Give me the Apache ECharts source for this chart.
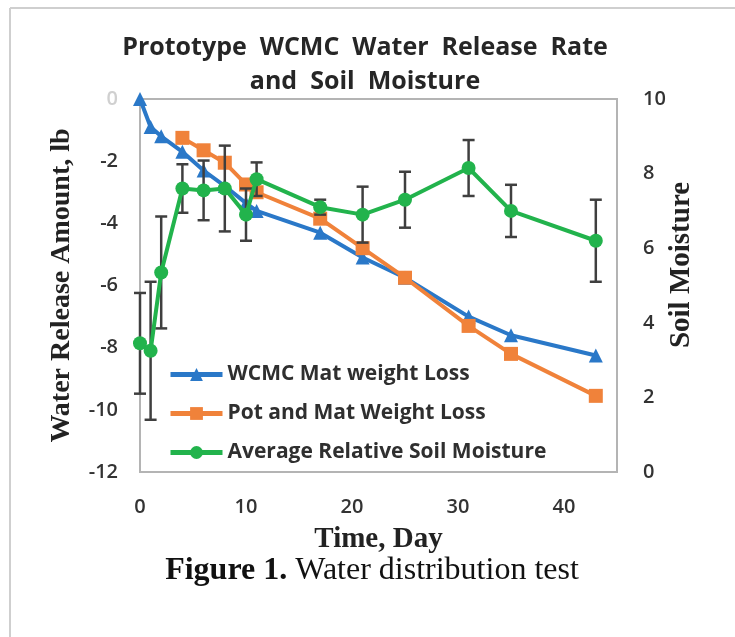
<!DOCTYPE html>
<html>
<head>
<meta charset="utf-8">
<script src="https://cdn.jsdelivr.net/npm/echarts@6/dist/echarts.min.js"></script>
<style>html,body{margin:0;padding:0;background:#fff;}#c{width:735px;height:637px;}</style>
</head>
<body>
<div id="c"></div>
<script>
const titleLines = ['Prototype  WCMC  Water  Release  Rate', 'and  Soil  Moisture'];
const seriesNames = ['WCMC Mat weight Loss', 'Pot and Mat Weight Loss', 'Average Relative Soil Moisture'];
const blueDays = [0, 1, 2, 4, 6, 8, 10, 11, 17, 21, 25, 31, 35, 43];
const blueVals = [0, -0.9, -1.2, -1.7, -2.3, -2.8, -3.35, -3.6, -4.3, -5.1, -5.75, -7.0, -7.6, -8.25];
const orangeDays = [4, 6, 8, 10, 11, 17, 21, 25, 31, 35, 43];
const orangeVals = [-1.25, -1.65, -2.05, -2.75, -3.0, -3.85, -4.8, -5.75, -7.3, -8.2, -9.55];
const greenDays = [0, 1, 2, 4, 6, 8, 10, 11, 17, 21, 25, 31, 35, 43];
const greenVals = [3.45, 3.25, 5.35, 7.6, 7.55, 7.6, 6.9, 7.85, 7.1, 6.9, 7.3, 8.15, 7.0, 6.2];
const greenErr = [1.35, 1.85, 1.5, 0.65, 0.8, 1.15, 0.7, 0.45, 0.2, 0.75, 0.75, 0.75, 0.7, 1.1];
const xTicks = [0, 10, 20, 30, 40];
const leftTicks = [0, -2, -4, -6, -8, -10, -12];
const rightTicks = [0, 2, 4, 6, 8, 10];

const BLUE = '#2A78C8', ORANGE = '#F0823A', GREEN = '#22B34C', ERR = '#3f3f3f';
const sans = '"Open Sans", sans-serif';
const serif = '"Liberation Serif", "Times New Roman", serif';

const chart = echarts.init(document.getElementById('c'), null, {renderer: 'canvas'});
const pairs = (xs, ys) => xs.map((x, i) => [x, ys[i]]);

const option = {
  backgroundColor: '#fff',
  animation: false,
  title: {
    text: titleLines.join('\n'),
    left: 360, top: 26, textAlign: 'center',
    textStyle: {fontFamily: sans, fontWeight: 'bold', fontSize: 25, color: '#262626', lineHeight: 34}
  },
  grid: {left: 140, right: 118, top: 99, bottom: 165, show: true, borderColor: '#b4b4b4', borderWidth: 2, containLabel: false},
  legend: {
    orient: 'vertical', left: 163, top: 359, itemGap: 18, itemWidth: 52, itemHeight: 16,
    data: seriesNames,
    lineStyle: {width: 5},
    textStyle: {fontFamily: sans, fontSize: 21, fontWeight: 'bold', color: '#2f2f2f'}
  },
  xAxis: {
    type: 'value', min: 0, max: 45, interval: 10,
    axisLine: {show: false}, axisTick: {show: false}, splitLine: {show: false},
    axisLabel: {margin: 25, showMaxLabel: false, fontFamily: sans, fontSize: 20, fontWeight: 600, color: '#333',
      formatter: v => xTicks.includes(v) ? String(v) : ''},
    name: 'Time, Day', nameLocation: 'middle', nameGap: 53,
    nameTextStyle: {fontFamily: serif, fontWeight: 'bold', fontSize: 29, color: '#222'}
  },
  yAxis: [{
    type: 'value', min: -12, max: 0, interval: 2,
    axisLine: {show: true, lineStyle: {color: '#b4b4b4', width: 2}}, axisTick: {show: false}, splitLine: {show: false},
    axisLabel: {margin: 22, fontFamily: sans, fontSize: 20, fontWeight: 600, color: '#333',
      formatter: v => leftTicks.includes(v) ? (v === 0 ? '{z|0}' : String(v)) : '',
      rich: {z: {color: '#d0d0d0', fontFamily: sans, fontSize: 20, fontWeight: 600}}},
    name: 'Water Release Amount, lb', nameLocation: 'middle', nameGap: 64, nameRotate: 90,
    nameTextStyle: {fontFamily: serif, fontWeight: 'bold', fontSize: 28, color: '#222'}
  }, {
    type: 'value', min: 0, max: 10, interval: 2,
    axisLine: {show: false}, axisTick: {show: false}, splitLine: {show: false},
    axisLabel: {margin: 26, fontFamily: sans, fontSize: 20, fontWeight: 600, color: '#333',
      formatter: v => rightTicks.includes(v) ? String(v) : ''}
  }],
  graphic: [
    {type: 'line', shape: {x1: 10, y1: 8, x2: 735, y2: 8}, style: {stroke: '#cfcfcf', lineWidth: 2}},
    {type: 'line', shape: {x1: 10, y1: 8, x2: 10, y2: 637}, style: {stroke: '#cfcfcf', lineWidth: 2}},
    {type: 'text', x: 682, y: 265, rotation: Math.PI / 2,
      style: {text: 'Soil Moisture', font: 'bold 29px ' + serif, fill: '#222', textAlign: 'center', textVerticalAlign: 'middle'}},
    {type: 'text', x: 372, y: 571,
      style: {text: '{b|Figure 1.} Water distribution test', textAlign: 'center', textVerticalAlign: 'middle',
        rich: {b: {fontFamily: serif, fontWeight: 'bold', fontSize: 32, fill: '#111'}},
        font: '32px ' + serif, fill: '#111'}}
  ],
  series: [
    {
      name: seriesNames[0], type: 'line', yAxisIndex: 0, data: pairs(blueDays, blueVals),
      symbol: 'triangle', symbolSize: 14, z: 3,
      lineStyle: {color: BLUE, width: 4}, itemStyle: {color: BLUE}
    },
    {
      name: seriesNames[1], type: 'line', yAxisIndex: 0, data: pairs(orangeDays, orangeVals),
      symbol: 'rect', symbolSize: 14, z: 4,
      lineStyle: {color: ORANGE, width: 4}, itemStyle: {color: ORANGE}
    },
    {
      name: 'err', type: 'custom', yAxisIndex: 1, z: 5,
      data: greenDays.map((d, i) => [d, greenVals[i], greenErr[i]]),
      encode: {x: 0, y: 1},
      renderItem: function (params, api) {
        const x = api.value(0), y = api.value(1), e = api.value(2);
        const top = api.coord([x, y + e]);
        const bot = api.coord([x, y - e]);
        const hw = 6;
        const st = {stroke: ERR, lineWidth: 2.5};
        return {type: 'group', children: [
          {type: 'line', shape: {x1: top[0], y1: top[1], x2: bot[0], y2: bot[1]}, style: st},
          {type: 'line', shape: {x1: top[0] - hw, y1: top[1], x2: top[0] + hw, y2: top[1]}, style: st},
          {type: 'line', shape: {x1: bot[0] - hw, y1: bot[1], x2: bot[0] + hw, y2: bot[1]}, style: st}
        ]};
      }
    },
    {
      name: seriesNames[2], type: 'line', yAxisIndex: 1, data: pairs(greenDays, greenVals),
      symbol: 'circle', symbolSize: 14, z: 6,
      lineStyle: {color: GREEN, width: 4}, itemStyle: {color: GREEN}
    }
  ]
};
chart.setOption(option);
</script>
</body>
</html>
